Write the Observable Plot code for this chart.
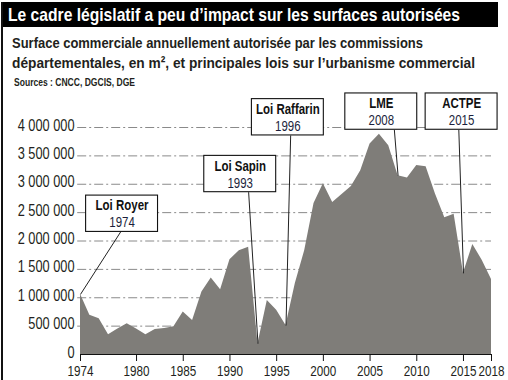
<!DOCTYPE html>
<html>
<head>
<meta charset="utf-8">
<script src="https://cdn.jsdelivr.net/npm/d3@7"></script>
<script src="https://cdn.jsdelivr.net/npm/@observablehq/plot@0.6"></script>
<style>
  html, body { margin: 0; padding: 0; background: #fff; }
  body { width: 508px; height: 380px; position: relative; overflow: hidden;
         font-family: 'Liberation Sans', Arial, sans-serif; color: #231f20; }
  #frame { position: absolute; left: 1px; top: 2px; width: 1.5px; height: 380px; background: #111; }
  #bar { position: absolute; left: 1px; top: 2px; width: 497px; height: 25px; background: #000; }
  .fit { position: absolute; white-space: nowrap; transform-origin: 0 0; display: inline-block; }
  #title { left: 8px; top: 4px; font-size: 18.5px; font-weight: bold; color: #fff; line-height: 22px; }
  #sub1 { left: 12px; top: 33px; font-size: 15.5px; font-weight: bold; line-height: 20px; }
  #sub2 { left: 12px; top: 53px; font-size: 15.5px; font-weight: bold; line-height: 20px; }
  #src { left: 14px; top: 76px; font-size: 11px; font-weight: bold; line-height: 13px; }
  #chart { position: absolute; left: 0; top: 92px; }
</style>
</head>
<body>
<div id="bar"></div>
<div id="frame"></div>
<span class="fit" id="title" data-w="452">Le cadre législatif a peu d’impact sur les surfaces autorisées</span>
<span class="fit" id="sub1" data-w="411">Surface commerciale annuellement autorisée par les commissions</span>
<span class="fit" id="sub2" data-w="463">départementales, en m², et principales lois sur l’urbanisme commercial</span>
<span class="fit" id="src" data-w="121">Sources : CNCC, DGCIS, DGE</span>
<div id="chart"></div>
<script>
// ---- data ----
const years = d3.range(1974, 2019);
const surfaces = [
  1060000, 690000, 630000, 350000, 450000, 540000, 450000, 350000, 440000, 460000,
  490000, 750000, 600000, 1100000, 1350000, 1140000, 1670000, 1830000, 1890000, 190000,
  950000, 780000, 510000, 1250000, 1830000, 2660000, 3010000, 2680000, 2820000, 2960000,
  3240000, 3710000, 3880000, 3680000, 3150000, 3110000, 3330000, 3310000, 2830000, 2410000,
  2470000, 1430000, 1940000, 1660000, 1320000
];
const yTicks = [0, 500000, 1000000, 1500000, 2000000, 2500000, 3000000, 3500000, 4000000];
const xTicks = [1974, 1980, 1985, 1990, 1995, 2000, 2005, 2010, 2015, 2018];
const lawNames = ["Loi Royer", "Loi Sapin", "Loi Raffarin", "LME", "ACTPE"];
const lawYears = [1974, 1993, 1996, 2008, 2015];

// ---- label layout (data units) ----
const labelX = [1978.45, 1991.1, 1996.2, 2006.2, 2014.8];
const labelY = [2480000, 3180000, 4180000, 4280000, 4280000];
const leaderX = [1978.3, 1992.0, 1996.5, 2007.6, 2014.5];
const BOX_HALF_W = 3.85;      // years
const BOX_HALF_H = 320000;    // m²

// fit header texts to their widths
document.querySelectorAll(".fit").forEach(el => {
  const w = el.getBoundingClientRect().width;
  const target = +el.dataset.w;
  el.style.transform = `scaleX(${target / w})`;
});

const data = years.map((y, i) => ({year: y, value: surfaces[i]}));
const laws = lawNames.map((n, i) => ({
  name: n, year: lawYears[i],
  value: surfaces[years.indexOf(lawYears[i])],
  lx: labelX[i], ly: labelY[i], tx: leaderX[i]
}));

const fmt = d => d3.format(",")(d).replace(/,/g, " ");

const chart = Plot.plot({
  width: 508,
  height: 288,
  marginLeft: 80,
  marginRight: 17,
  marginTop: 35,
  marginBottom: 26,
  style: {fontFamily: "'Liberation Sans', Arial, sans-serif", fontSize: "15px", color: "#231f20", background: "transparent", overflow: "visible"},
  x: {domain: [1974, 2018]},
  y: {domain: [0, 4000000]},
  marks: [
    Plot.ruleY(yTicks.slice(1), {stroke: "#8a8a8a", strokeWidth: 1, strokeDasharray: "9,3,2,3", x1: 1973.7, x2: 2018}),
    Plot.areaY(data, {x: "year", y: "value", fill: "#7f7d79", curve: "linear"}),
    Plot.ruleY([0], {stroke: "#111", strokeWidth: 1}),
    Plot.axisX({ticks: xTicks, tickFormat: d => String(d), tickSize: 7, tickPadding: 4, stroke: "#111", fontSize: 15, label: null}),
    Plot.axisY({ticks: yTicks, tickFormat: fmt, tickSize: 0, tickPadding: 6, dy: -2, fontSize: 16, label: null}),
    Plot.link(laws, {x1: "tx", y1: d => d.ly - BOX_HALF_H, x2: "year", y2: "value", stroke: "#222", strokeWidth: 1}),
    Plot.rect(laws, {x1: d => d.lx - BOX_HALF_W, x2: d => d.lx + BOX_HALF_W, y1: d => d.ly - BOX_HALF_H, y2: d => d.ly + BOX_HALF_H, fill: "#fff", stroke: "#111", strokeWidth: 1.1}),
    Plot.text(laws, {x: "lx", y: "ly", text: "name", dy: -8, fontWeight: "bold", fontSize: 14, fill: "#111"}),
    Plot.text(laws, {x: "lx", y: "ly", text: d => String(d.year), dy: 9, fontSize: 14, fill: "#1c1f3c"})
  ]
});

// condense SVG texts (narrow face)
function condense(sel, s) {
  chart.querySelectorAll(sel).forEach(t => {
    const tr = t.getAttribute("transform") || "";
    t.setAttribute("transform", tr + ` scale(${s},1)`);
  });
}
condense('g[aria-label="x-axis tick label"] text', 0.78);
condense('g[aria-label="y-axis tick label"] text', 0.8);
condense('g[aria-label="text"] text', 0.82);

document.getElementById("chart").appendChild(chart);
</script>
</body>
</html>
